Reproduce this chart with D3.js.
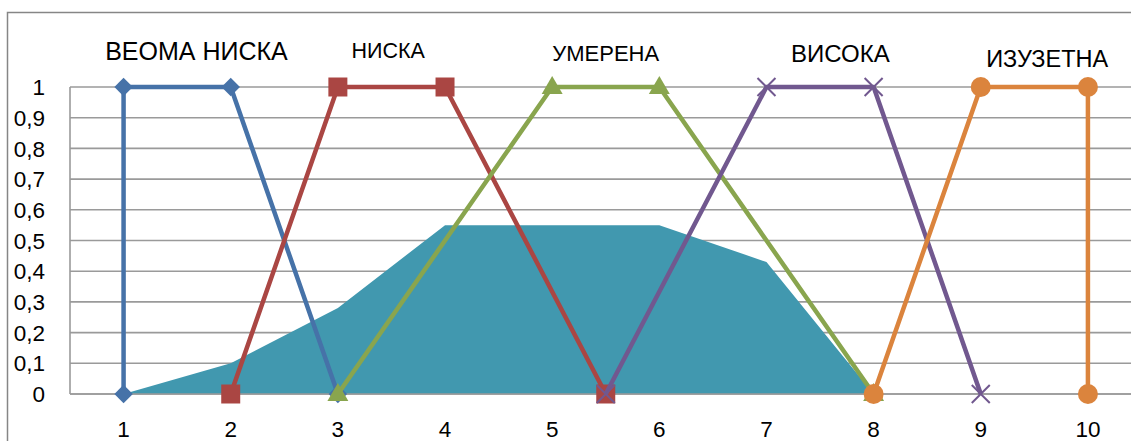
<!DOCTYPE html>
<html><head><meta charset="utf-8">
<script src="https://cdn.jsdelivr.net/npm/d3@7"></script>
<style>body{margin:0;background:#fff}svg{display:block}text{font-family:"Liberation Sans",Arial,sans-serif;fill:#000}</style>
</head><body><svg id="c" width="1131" height="441"></svg>
<script>
// ---- data ----
const yTicks = [0,0.1,0.2,0.3,0.4,0.5,0.6,0.7,0.8,0.9,1];
const xTicks = [1,2,3,4,5,6,7,8,9,10];
const areaX = [1,2,3,4,5,6,7,8];
const areaY = [0,0.1,0.28,0.55,0.55,0.55,0.43,0];
const names = ["ВЕОМА НИСКА","НИСКА","УМЕРЕНА","ВИСОКА","ИЗУЗЕТНА"];
const s1x = [1,1,2,3],     s1y = [0,1,1,0];
const s2x = [2,3,4,5.5],   s2y = [0,1,1,0];
const s3x = [3,5,6,8],     s3y = [0,1,1,0];
const s4x = [5.5,7,8,9],   s4y = [0,1,1,0];
const s5x = [8,9,10,10],   s5y = [0,1,1,0];
// label anchors (data coords: x center, baseline y)
const labelX = [1.68,3.47,5.5,7.69,9.62];
const labelY = [1.088,1.094,1.085,1.081,1.065];
const labelSize = [25,21.5,22,24,23.5];

const colors = ["#4672A8","#AA4643","#89A54E","#71588F","#DB843D"];
const markers = ["diamond","square","triangle","x","circle"];
const series = [[s1x,s1y],[s2x,s2y],[s3x,s3y],[s4x,s4y],[s5x,s5y]];

const svg = d3.select("#c");
const x = d3.scaleLinear().domain([0.5,10.5]).range([70,1141.5]);
const y = d3.scaleLinear().domain([0,1]).range([394,87]);

// chart border
svg.append("path").attr("d","M7.5,441 V12.5 H1131").attr("fill","none").attr("stroke","#868686").attr("stroke-width",1.5);

// gridlines
svg.append("g").selectAll("line").data(yTicks).join("line")
  .attr("x1",70).attr("x2",1131).attr("y1",d=>y(d)).attr("y2",d=>y(d))
  .attr("stroke","#9a9a9a").attr("stroke-width",1.6);
svg.append("line").attr("x1",70).attr("x2",70).attr("y1",y(1)).attr("y2",y(0)).attr("stroke","#9a9a9a").attr("stroke-width",1.6);

// y tick labels
const fmt = d => d3.format(".1~f")(d).replace(".",",");
svg.append("g").selectAll("text").data(yTicks).join("text")
  .attr("x",45).attr("y",d=>y(d)).attr("dy","0.36em").attr("text-anchor","end")
  .style("font-size","22.5px").text(fmt);
// x tick labels
svg.append("g").selectAll("text").data(xTicks).join("text")
  .attr("x",d=>x(d)).attr("y",437).attr("text-anchor","middle")
  .style("font-size","22.5px").text(d=>d);

// area
const areaData = areaX.map((v,i)=>[v,areaY[i]]);
svg.append("path").datum(areaData)
  .attr("d", d3.area().x(d=>x(d[0])).y0(y(0)).y1(d=>y(d[1])))
  .attr("fill","#4198AF");
svg.append("line").attr("x1",70).attr("x2",1131).attr("y1",y(0)).attr("y2",y(0)).attr("stroke","#9a9a9a").attr("stroke-width",1.6);

// series
const line = d3.line().x(d=>x(d[0])).y(d=>y(d[1]));
series.forEach((s,i)=>{
  const pts = s[0].map((v,j)=>[v,s[1][j]]);
  const g = svg.append("g");
  g.append("path").datum(pts).attr("d",line).attr("fill","none")
    .attr("stroke",colors[i]).attr("stroke-width",4.5).attr("stroke-linejoin","round");
  const m = markers[i];
  pts.forEach(p=>{
    const cx = x(p[0]), cy = y(p[1]);
    if(m==="diamond"){
      g.append("path").attr("d",d3.symbol(d3.symbolSquare,170)()).attr("transform",`translate(${cx},${cy}) rotate(45)`).attr("fill",colors[i]);
    } else if(m==="square"){
      g.append("path").attr("d",d3.symbol(d3.symbolSquare,361)()).attr("transform",`translate(${cx},${cy})`).attr("fill",colors[i]);
    } else if(m==="triangle"){
      g.append("path").attr("d",d3.symbol(d3.symbolTriangle,190)()).attr("transform",`translate(${cx},${cy+1})`).attr("fill",colors[i]);
    } else if(m==="circle"){
      g.append("circle").attr("cx",cx).attr("cy",cy).attr("r",10).attr("fill",colors[i]);
    } else if(m==="x"){
      g.append("path").attr("d","M-9,-9L9,9M-9,9L9,-9").attr("transform",`translate(${cx},${cy})`)
        .attr("stroke",colors[i]).attr("stroke-width",2).attr("fill","none");
    }
  });
});

// labels
svg.append("g").selectAll("text").data(names).join("text")
  .attr("x",(d,i)=>x(labelX[i])).attr("y",(d,i)=>y(labelY[i]))
  .attr("text-anchor","middle").style("font-size",(d,i)=>labelSize[i]+"px").text(d=>d);
</script></body></html>
